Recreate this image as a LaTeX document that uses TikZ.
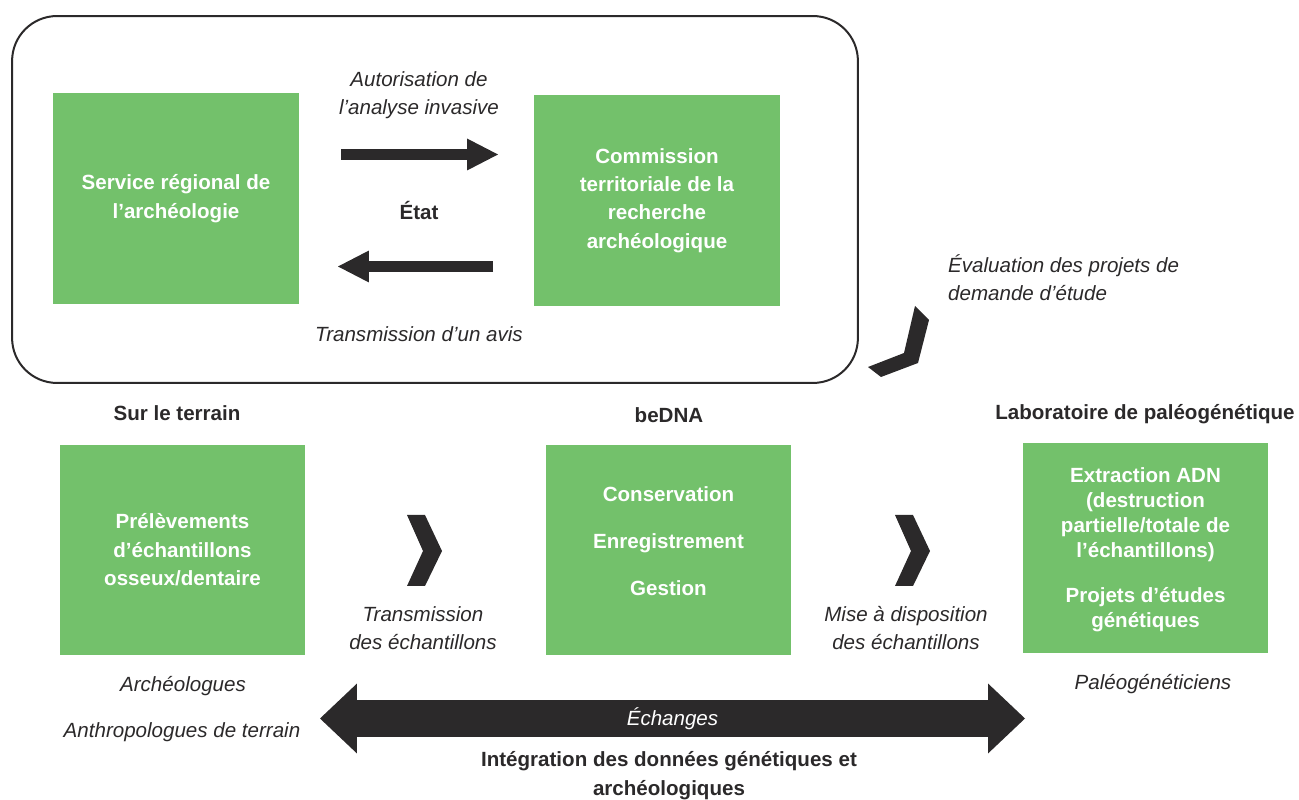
\documentclass[tikz,border=0pt]{standalone}
\usepackage{fontspec}
\setmainfont{Liberation Sans}
\usepackage{tikz}
\usetikzlibrary{calc}
\usetikzlibrary{arrows.meta}
\definecolor{vert}{RGB}{115,193,107}
\definecolor{noir}{RGB}{43,41,42}

\begin{document}
\begin{tikzpicture}[x=0.02cm,y=-0.02cm,text=noir,
	boite/.style={fill=vert,minimum width=4.92cm,minimum height=4.22cm},
	btxt/.style={text=white,font=\fontsize{11.7}{16.2}\selectfont\bfseries,align=center},
	ital/.style={font=\fontsize{11.7}{16}\selectfont\itshape,align=center},
	gras/.style={font=\fontsize{11.7}{16.4}\selectfont\bfseries,align=center},
	fleche/.style={draw=noir,line width=0.22cm,-{Triangle[length=0.62cm,width=0.64cm,line width=0pt]}},
	grosse/.style={draw=noir,line width=0.74cm,{Triangle[length=0.74cm,width=1.4cm,line width=0pt]}-{Triangle[length=0.74cm,width=1.4cm,line width=0pt]}},
	chevron/.style={fill=noir}]
	\useasboundingbox (0,0) rectangle (1299,800);
	\node[draw=noir,line width=0.04cm,rounded corners=0.9cm,minimum width=16.92cm,minimum height=7.34cm] (cadre) at (435,199.5) {};

	\node[boite,btxt] (sra) at (176,198.5) {Service régional de\\l’archéologie};
	\node[boite,btxt] (ctra) at (657,200.5) {Commission\\territoriale de la\\recherche\\archéologique};
	\node[boite,btxt] (prel) at (182.5,550) {Prélèvements\\d’échantillons\\osseux/dentaire};
	\node[boite] (bedna) at (668.5,550) {};
	\node[btxt] (bedna-txt) at (668.5,541) {Conservation\\[10.7pt]Enregistrement\\[10.7pt]Gestion};
	\node[boite] (labo) at (1145.5,548) {};
	\node[btxt,font=\fontsize{11.7}{14.2}\selectfont\bfseries] (labo-txt) at (1145.5,549.5) {Extraction ADN\\(destruction\\partielle/totale de\\l’échantillons)\\[11.3pt]Projets d’études\\génétiques};

	\node[ital] (autor) at (419,95) {Autorisation de\\l’analyse invasive};
	\node[gras] (etat) at (419,210) {État};
	\node[ital] (avis) at (419,334) {Transmission d’un avis};
	\node[ital,align=left,anchor=west] (evalu) at (942,278) {Évaluation des projets de\\demande d’étude};

	\coordinate (f1a) at (341,154.5);
	\coordinate (f1b) at (498,154.5);
	\coordinate (f2a) at (493,266.5);
	\coordinate (f2b) at (338,266.5);
	\draw[fleche] (f1a) -- (f1b);
	\draw[fleche] (f2a) -- (f2b);

	\fill[chevron] (915,306) -- (929,320) -- (918,363) -- (881,377) -- (868,367) -- (904,353) -- cycle;

	\node[gras] (terrain) at (177,413) {Sur le terrain};
	\node[gras] (bedna-tit) at (669,415) {beDNA};
	\node[gras] (labo-tit) at (1145,414) {Laboratoire de paléogénétique};

	\coordinate (ch1) at (407,515);
	\coordinate (ch2) at (895,515);
	\foreach \c in {ch1,ch2}
		\fill[chevron] (\c) -- ++(18,0) -- ++(17,36) -- ++(-17,35) -- ++(-18,0) -- ++(16,-35) -- cycle;

	\node[ital] (trans) at (423,628) {Transmission\\des échantillons};
	\node[ital] (dispo) at (906,628) {Mise à disposition\\des échantillons};
	\node[ital] (archeo) at (183,686) {Archéologues};
	\node[ital] (anthro) at (182,732) {Anthropologues de terrain};
	\node[ital] (paleo) at (1153,684) {Paléogénéticiens};

	\coordinate (ech-g) at (320,718.5);
	\coordinate (ech-d) at (1025,718.5);
	\draw[grosse] (ech-g) -- node[ital,text=white] {Échanges} (ech-d);

	\node[gras] (integ) at (669,775.5) {Intégration des données génétiques et\\archéologiques};
\end{tikzpicture}
\end{document}
